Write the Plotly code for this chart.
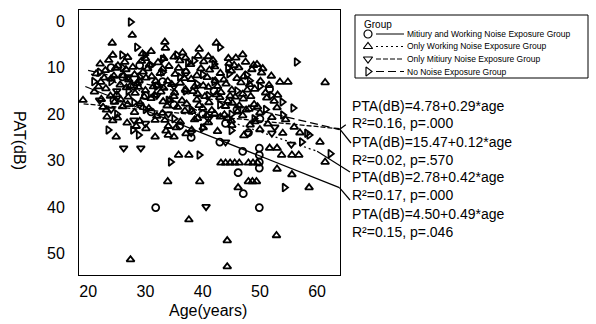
import plotly.graph_objects as go

W, H = 596, 324

# ---------------- data ----------------
group_names = [
    "Mitiury and Working Noise Exposure Group",
    "Only Working Noise Exposure Group",
    "Only Mitiury Noise Exposure Group",
    "No Noise Exposure Group",
]
intercepts = [4.50, 2.78, 15.47, 4.78]
slopes = [0.49, 0.42, 0.12, 0.29]
r_squared = ["0.15", "0.17", "0.02", "0.16"]
p_values = [".046", ".000", ".570", ".000"]
line_start_age = [19.5, 20.5, 19.2, 20.0]
line_end_age = [63.9, 60.0, 63.9, 63.9]

x_ticks = [20, 30, 40, 50, 60]
y_ticks = [0, 10, 20, 30, 40, 50]

military_working = [
    (51.7, 14.6), (31.8, 40.1), (46.2, 32.6), (47.1, 37.1), (49.9, 40.1),
    (49.9, 27.3), (49.9, 28.8), (49.9, 30.3), (49.9, 31.6),
    (24.0, 10.0), (26.0, 12.0), (28.0, 14.0), (30.0, 16.0), (33.0, 13.0),
    (35.0, 18.0), (37.0, 11.0), (40.0, 20.0), (42.0, 15.0), (44.0, 22.0),
    (46.0, 19.0), (48.0, 24.0), (50.0, 21.0), (38.0, 25.0), (36.0, 22.5),
    (31.0, 19.5), (43.0, 26.0), (47.0, 28.0), (24.5, 17.0), (29.0, 9.5),
]

only_working = [
    # sparse upper points
    (27.7, 3.0), (24.2, 4.7), (33.4, 4.5), (39.4, 6.0), (42.4, 4.7),
    (52.0, 11.8), (53.5, 13.1), (54.9, 13.1), (61.4, 13.2), (24.3, 7.3),
    (29.5, 7.0), (35.0, 7.7), (39.2, 7.5), (33.5, 5.8), (31.0, 6.5),
    (36.5, 6.8), (41.0, 7.6), (44.5, 8.0), (47.0, 7.2), (19.1, 17.0),
    # sparse lower points
    (33.9, 34.5), (39.5, 34.5), (37.6, 42.7), (27.4, 51.3), (48.0, 34.5),
    (48.7, 34.5), (49.4, 34.5), (46.2, 35.8), (52.9, 46.1), (44.3, 47.2),
    (44.3, 52.8), (55.6, 33.0), (58.6, 35.8), (35.8, 28.8), (37.6, 28.8),
    (43.2, 30.5), (44.0, 30.5), (44.8, 30.5), (45.6, 30.5), (46.4, 30.5),
    (48.0, 30.5), (48.8, 30.5), (49.6, 30.5), (51.7, 27.3), (53.0, 27.3),
    (53.0, 31.8), (53.8, 28.8), (55.6, 28.8), (56.8, 28.8), (60.5, 26.0),
    (61.4, 30.3), (57.0, 24.0), (23.3, 20.6), (24.9, 24.9), (31.7, 21.3),
    (33.4, 21.3), (31.7, 24.9), (34.0, 24.5), (35.0, 24.9), (38.1, 23.4),
    # dense cluster
    (22.1, 9.2), (23.6, 8.4), (25.2, 9.6), (26.4, 8.8), (27.8, 9.9),
    (29.3, 8.6), (30.7, 9.4), (32.2, 8.9), (34.1, 9.7), (36.0, 8.5),
    (37.9, 9.3), (40.2, 8.7), (42.1, 9.8), (44.6, 9.1), (46.3, 10.0),
    (48.9, 9.5), (45.5, 9.5), (47.5, 8.8), (49.5, 9.3), (50.5, 10.2),
    (21.4, 11.3), (23.0, 10.6), (24.5, 11.8), (26.6, 10.4), (28.1, 11.5),
    (29.6, 10.9), (31.1, 11.9), (33.0, 10.3), (35.2, 11.4), (37.1, 10.8),
    (39.0, 11.7), (41.2, 10.5), (43.1, 11.2), (45.0, 10.7), (47.2, 11.9),
    (48.6, 10.4), (50.3, 11.1),
    (22.2, 13.1), (24.0, 12.4), (25.6, 13.7), (27.1, 12.6), (28.6, 13.4),
    (30.1, 12.2), (32.1, 13.8), (33.9, 12.9), (36.1, 13.3), (38.0, 12.5),
    (40.1, 13.9), (42.2, 12.8), (44.1, 13.5), (46.0, 12.3), (48.2, 13.6),
    (50.1, 12.9), (51.6, 13.8),
    (21.1, 15.2), (23.1, 14.5), (25.0, 15.8), (26.7, 14.3), (28.2, 15.5),
    (30.0, 14.9), (31.6, 15.9), (33.2, 14.4), (35.1, 15.4), (37.0, 14.7),
    (39.1, 15.6), (41.0, 14.2), (43.2, 15.3), (45.1, 14.8), (47.0, 15.7),
    (49.1, 14.6), (51.0, 15.4), (53.1, 15.9),
    (22.3, 16.8), (24.6, 17.4), (27.0, 16.3), (29.1, 17.7), (31.0, 16.6),
    (33.1, 17.3), (35.0, 16.2), (37.2, 17.8), (39.0, 16.9), (41.1, 17.5),
    (43.0, 16.4), (45.2, 17.6), (47.1, 16.7), (49.0, 17.9), (51.2, 16.5),
    (52.5, 17.2),
    (23.2, 19.1), (26.0, 18.4), (28.1, 19.6), (30.6, 18.8), (33.0, 19.8),
    (35.6, 18.5), (38.1, 19.4), (40.0, 18.7), (42.1, 19.9), (44.0, 18.3),
    (46.1, 19.5), (48.1, 18.9), (50.0, 19.7), (53.0, 18.6),
    (25.1, 20.8), (29.0, 21.5), (32.0, 20.4), (36.1, 21.7), (39.1, 20.9),
    (41.0, 21.8), (43.1, 20.6), (45.0, 21.4), (47.0, 20.3), (49.1, 21.6),
    (52.1, 20.7), (54.5, 21.2),
    (30.1, 23.1), (34.0, 22.6), (37.1, 24.2), (40.1, 22.9), (42.6, 23.7),
    (45.1, 22.4), (47.2, 24.6), (50.0, 23.3), (54.0, 24.1), (56.0, 22.8),
    (22.8, 12.2), (24.8, 10.1), (26.2, 11.7), (27.4, 13.9), (28.9, 12.8),
    (30.4, 10.2), (31.8, 12.9), (32.6, 11.2), (34.6, 13.6), (35.8, 10.1),
    (36.8, 12.3), (38.6, 14.1), (39.7, 10.2), (40.8, 12.1), (42.6, 14.0),
    (43.7, 12.6), (44.8, 16.1), (46.7, 13.2), (47.8, 14.8), (48.4, 16.2),
    (29.8, 16.3), (32.7, 15.2), (34.3, 16.9), (36.4, 17.1), (38.3, 15.1),
    (40.4, 16.2), (42.4, 15.8), (44.4, 17.2), (46.4, 18.2), (49.6, 18.4),
    (26.9, 17.9), (28.8, 14.2), (31.4, 14.1), (33.8, 18.2), (36.9, 19.3),
    (39.4, 18.1), (41.6, 19.2), (43.8, 20.1), (45.7, 16.3), (47.6, 19.1),
    (21.8, 14.1), (23.9, 16.1), (25.7, 16.9), (22.6, 18.5), (24.3, 21.4),
    (26.8, 21.9), (28.4, 22.6), (33.6, 23.6), (35.4, 22.9), (38.6, 21.2),
    (40.7, 20.3), (44.4, 20.9), (48.3, 22.3), (51.4, 22.1), (33.2, 8.0),
    (37.0, 7.9), (41.8, 8.4), (45.8, 7.9), (30.0, 8.0), (26.9, 7.8),
]

only_military = [
    (26.2, 27.3), (29.2, 27.3), (40.6, 39.9), (28.0, 21.3), (22.0, 17.0),
    (24.0, 19.0), (25.0, 15.0), (27.0, 12.0), (29.0, 18.0), (30.0, 22.0),
    (32.0, 16.0), (34.0, 20.0), (35.0, 14.0), (38.0, 24.0), (41.0, 21.0),
    (44.0, 26.0), (47.9, 24.1), (52.1, 24.1), (52.6, 22.8), (55.5, 26.5),
]

no_noise = [
    (27.4, 0.2), (28.5, 5.6), (25.9, 7.3), (29.9, 7.3), (35.5, 7.3),
    (37.4, 9.0), (38.5, 8.5), (43.0, 5.6), (56.4, 8.8), (28.8, 24.5),
    (34.4, 30.3), (39.4, 28.8), (54.3, 35.8), (58.6, 24.5), (57.3, 26.0),
    (62.3, 28.5), (23.5, 23.4), (27.8, 23.4), (44.4, 10.1), (44.6, 11.3),
    (47.7, 11.6), (48.2, 12.8), (53.9, 17.4), (55.8, 18.7), (54.0, 20.2),
    (58.2, 24.1),
    (22.0, 11.0), (24.0, 13.0), (26.0, 10.0), (27.0, 15.0), (29.0, 12.0),
    (31.0, 9.5), (32.0, 14.0), (33.0, 11.0), (34.0, 17.0), (36.0, 12.0),
    (37.0, 15.0), (38.0, 19.0), (40.0, 11.5), (41.0, 16.0), (42.0, 13.0),
    (43.0, 18.0), (45.0, 20.0), (46.0, 15.0), (49.0, 21.0), (50.0, 14.0),
    (51.0, 19.0), (52.0, 16.0), (30.0, 19.0), (25.0, 20.0), (35.0, 21.0),
    (40.0, 23.0), (45.0, 23.5), (28.0, 17.5), (21.0, 13.0), (33.0, 8.2),
    (42.0, 9.2), (39.0, 13.5),
]

group_points = [military_working, only_working, only_military, no_noise]
symbols = ["circle-open", "triangle-up-open", "triangle-down-open", "triangle-right-open"]
line_dashes = ["solid", "2px,3px", "5px,2px", "8px,4px"]

# ---------------- geometry ----------------
X_RANGE = [18.4, 64.0]
Y_RANGE = [54.6, -2.4]
PL, PR, PT, PB = 79, 340, 10, 275  # plot area in px

FONT = "Liberation Sans, Arial, sans-serif"


def fx(px):
    return px / W


def fy(py):
    return 1 - py / H


def data_to_px(age, pta):
    px = PL + (age - X_RANGE[0]) / (X_RANGE[1] - X_RANGE[0]) * (PR - PL)
    py = PT + (pta - Y_RANGE[1]) / (Y_RANGE[0] - Y_RANGE[1]) * (PB - PT)
    return px, py


fig = go.Figure()

for pts, sym, name in zip(group_points, symbols, group_names):
    fig.add_trace(go.Scatter(
        x=[a for a, _ in pts], y=[p for _, p in pts], mode="markers", name=name,
        marker=dict(symbol=sym, size=7, color="black", line=dict(width=1.8, color="black")),
        showlegend=False,
    ))

for b0, b1, x0, x1, dash in zip(intercepts, slopes, line_start_age, line_end_age, line_dashes):
    fig.add_trace(go.Scatter(
        x=[x0, x1], y=[b0 + b1 * x0, b0 + b1 * x1], mode="lines",
        line=dict(color="black", width=1.3, dash=dash), showlegend=False,
    ))

# ---------------- equation annotations ----------------
order = [3, 2, 1, 0]  # top to bottom
text_rows = [106, 123, 142, 160, 177, 195, 214, 232]
leader_targets = {3: (348, 123), 2: (351, 143), 1: (350, 172), 0: (350, 200)}
annotations = []
shapes = []
for k, gi in enumerate(order):
    eq = f"PTA(dB)={intercepts[gi]:.2f}+{slopes[gi]:.2f}*age"
    st = f"R²={r_squared[gi]}, p={p_values[gi]}"
    for j, t in enumerate([eq, st]):
        annotations.append(dict(
            x=fx(350), y=fy(text_rows[2 * k + j]), xref="paper", yref="paper",
            text=t, showarrow=False, xanchor="left", yanchor="middle",
            font=dict(family=FONT, size=14, color="black"),
        ))
    ex = line_end_age[gi]
    sx, sy = data_to_px(ex, intercepts[gi] + slopes[gi] * ex)
    tx, ty = leader_targets[gi]
    shapes.append(dict(
        type="line", xref="paper", yref="paper", x0=fx(sx), y0=fy(sy), x1=fx(tx), y1=fy(ty),
        line=dict(color="black", width=1.2, dash="8px,4px" if gi == 3 else "solid"),
    ))

# axis titles
annotations.append(dict(x=fx(208), y=fy(310), xref="paper", yref="paper", text="Age(years)",
                        showarrow=False, xanchor="center", yanchor="middle",
                        font=dict(family=FONT, size=16, color="black")))
annotations.append(dict(x=fx(19), y=fy(140), xref="paper", yref="paper", text="PAT(dB)",
                        textangle=90, showarrow=False, xanchor="center", yanchor="middle",
                        font=dict(family=FONT, size=16, color="black")))

# ---------------- custom legend ----------------
LG = (355, 15, 588, 78)
shapes.append(dict(type="rect", xref="paper", yref="paper", x0=fx(LG[0]), y0=fy(LG[3]),
                   x1=fx(LG[2]), y1=fy(LG[1]), line=dict(color="black", width=1)))
annotations.append(dict(x=fx(362), y=fy(24), xref="paper", yref="paper", text="Group",
                        showarrow=False, xanchor="left", yanchor="middle",
                        font=dict(family=FONT, size=10, color="black")))
legend_rows = [34, 46.5, 59, 71.5]
for name, sym, dash, ry in zip(group_names, symbols, line_dashes, legend_rows):
    fig.add_trace(go.Scatter(
        x=[368], y=[ry], xaxis="x2", yaxis="y2", mode="markers", showlegend=False,
        marker=dict(symbol=sym, size=8, color="black", line=dict(width=1.2, color="black")),
        hoverinfo="skip",
    ))
    shapes.append(dict(type="line", xref="paper", yref="paper", x0=fx(376), x1=fx(404),
                       y0=fy(ry), y1=fy(ry), line=dict(color="black", width=1, dash=dash)))
    annotations.append(dict(x=fx(405), y=fy(ry), xref="paper", yref="paper", text=name,
                            showarrow=False, xanchor="left", yanchor="middle",
                            font=dict(family=FONT, size=8.5, color="black")))

fig.update_layout(
    width=W, height=H, margin=dict(l=0, r=0, t=0, b=0),
    paper_bgcolor="white", plot_bgcolor="white", showlegend=False,
    font=dict(family=FONT, color="black"),
    xaxis=dict(domain=[PL / W, PR / W], range=X_RANGE, tickvals=x_ticks, ticks="",
               ticklabelstandoff=2, tickfont=dict(size=16, family=FONT, color="black"),
               showgrid=False, zeroline=False, showline=True, mirror=True,
               linecolor="black", linewidth=1, automargin=False),
    yaxis=dict(domain=[1 - PB / H, 1 - PT / H], range=Y_RANGE, tickvals=y_ticks, ticks="",
               ticklabelstandoff=10, tickfont=dict(size=16, family=FONT, color="black"),
               showgrid=False, zeroline=False, showline=True, mirror=True,
               linecolor="black", linewidth=1, automargin=False),
    xaxis2=dict(domain=[LG[0] / W, LG[2] / W], range=[LG[0], LG[2]], visible=False,
                anchor="y2", fixedrange=True),
    yaxis2=dict(domain=[1 - LG[3] / H, 1 - LG[1] / H], range=[LG[3], LG[1]], visible=False,
                anchor="x2", fixedrange=True),
    annotations=annotations, shapes=shapes,
)

fig.write_html("out.html", config={"displayModeBar": False},
               post_script="document.body.style.margin='0px';document.body.style.overflow='hidden';")
